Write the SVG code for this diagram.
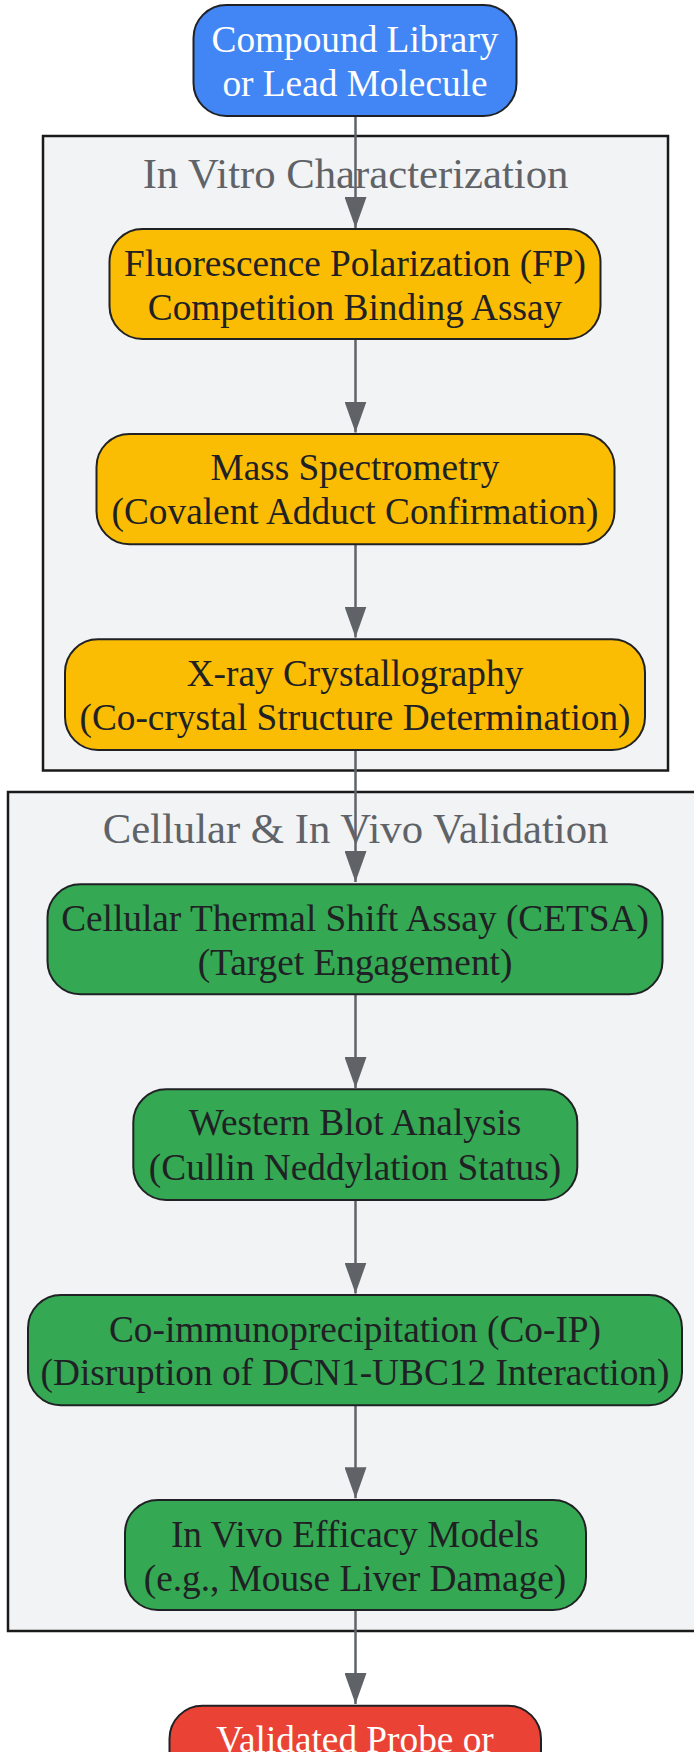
<svg xmlns="http://www.w3.org/2000/svg" width="694" height="1752" viewBox="0 0 694 1752">
<style>
.bg{fill:#ffffff}
.cluster{fill:#f1f3f4;stroke:#1a1a1a;stroke-width:2.5}
.ctitle{font-family:"Liberation Serif","Times New Roman",serif;font-size:42.7px;fill:#5f6368;text-anchor:middle}
.node{stroke:#202124;stroke-width:2}
.blue{fill:#4285f4}
.yellow{fill:#fbbc04}
.green{fill:#34a853}
.red{fill:#ea4335}
.t{font-family:"Liberation Serif","Times New Roman",serif;font-size:37.3px;fill:#202124;text-anchor:middle}
.w{fill:#ffffff}
.edge{stroke:#5f6368;stroke-width:2.5;fill:none;marker-end:url(#arrow)}
</style>
<defs>
<marker id="arrow" markerUnits="userSpaceOnUse" markerWidth="31" markerHeight="22" refX="31" refY="11" orient="auto">
<path d="M0,0 L31,11 L0,22 z" fill="#5f6368"/>
</marker>
</defs>
<rect class="bg" x="0" y="0" width="694" height="1752"/>
<g id="cluster_invitro">
<rect class="cluster" x="43" y="136" width="625" height="634.5"/>
<text class="ctitle" x="355.5" y="187.7">In Vitro Characterization</text>
</g>
<g id="cluster_cellular">
<rect class="cluster" x="8" y="792" width="720" height="839"/>
<text class="ctitle" x="355.5" y="842.7">Cellular &amp; In Vivo Validation</text>
</g>
<g id="connectors">
<line class="edge" x1="355.5" y1="116" x2="355.5" y2="228"/>
<line class="edge" x1="355.5" y1="338.5" x2="355.5" y2="432.5"/>
<line class="edge" x1="355.5" y1="544.3" x2="355.5" y2="637.5"/>
<line class="edge" x1="355.5" y1="750" x2="355.5" y2="882"/>
<line class="edge" x1="355.5" y1="994.3" x2="355.5" y2="1088"/>
<line class="edge" x1="355.5" y1="1200" x2="355.5" y2="1293.5"/>
<line class="edge" x1="355.5" y1="1405.3" x2="355.5" y2="1498.3"/>
<line class="edge" x1="355.5" y1="1610" x2="355.5" y2="1704"/>
</g>
<g id="node_start">
<rect class="node blue" x="193.5" y="5" width="323" height="111" rx="33" ry="33"/>
<text class="t w" x="355" y="51.7">Compound Library</text>
<text class="t w" x="355" y="96">or Lead Molecule</text>
</g>
<g id="node_fp">
<rect class="node yellow" x="109.5" y="229" width="491" height="110" rx="33" ry="33"/>
<text class="t" x="355" y="276">Fluorescence Polarization (FP)</text>
<text class="t" x="355" y="319.5">Competition Binding Assay</text>
</g>
<g id="node_ms">
<rect class="node yellow" x="96.5" y="434" width="518" height="110.3" rx="33" ry="33"/>
<text class="t" x="355" y="480.3">Mass Spectrometry</text>
<text class="t" x="355" y="524.3">(Covalent Adduct Confirmation)</text>
</g>
<g id="node_xray">
<rect class="node yellow" x="65" y="639.3" width="580" height="110.7" rx="33" ry="33"/>
<text class="t" x="355" y="685.7">X-ray Crystallography</text>
<text class="t" x="355" y="730">(Co-crystal Structure Determination)</text>
</g>
<g id="node_cetsa">
<rect class="node green" x="47.5" y="884.3" width="615" height="110" rx="33" ry="33"/>
<text class="t" x="355" y="930.7">Cellular Thermal Shift Assay (CETSA)</text>
<text class="t" x="355" y="974.7">(Target Engagement)</text>
</g>
<g id="node_wb">
<rect class="node green" x="133.3" y="1089.3" width="444" height="110.7" rx="33" ry="33"/>
<text class="t" x="355" y="1135.3">Western Blot Analysis</text>
<text class="t" x="355" y="1179.7">(Cullin Neddylation Status)</text>
</g>
<g id="node_coip">
<rect class="node green" x="28" y="1295" width="654" height="110.3" rx="33" ry="33"/>
<text class="t" x="355" y="1341.7">Co-immunoprecipitation (Co-IP)</text>
<text class="t" x="355" y="1385.3">(Disruption of DCN1-UBC12 Interaction)</text>
</g>
<g id="node_invivo">
<rect class="node green" x="125" y="1500" width="461" height="110" rx="33" ry="33"/>
<text class="t" x="355" y="1546.7">In Vivo Efficacy Models</text>
<text class="t" x="355" y="1590.7">(e.g., Mouse Liver Damage)</text>
</g>
<g id="node_final">
<rect class="node red" x="169.5" y="1705.7" width="371.5" height="110" rx="33" ry="33"/>
<text class="t w" x="355" y="1751.5">Validated Probe or</text>
</g>
</svg>
